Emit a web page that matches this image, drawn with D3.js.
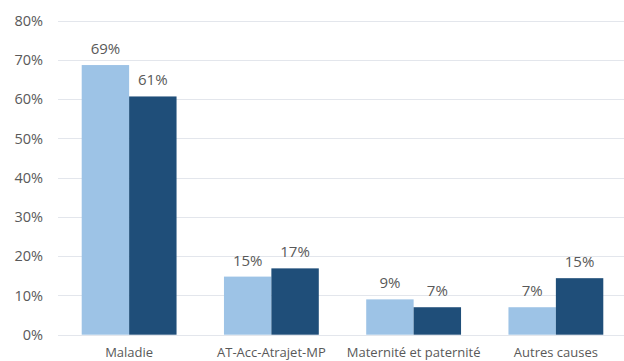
<!DOCTYPE html>
<html><head><meta charset="utf-8">
<script src="https://cdn.jsdelivr.net/npm/d3@7"></script>
<style>body{margin:0;background:#fff}svg{display:block}text{font-family:"Open Sans",sans-serif;fill:#595959}</style>
</head><body><div id="chart"></div>
<script>
const categories = ["Maladie", "AT-Acc-Atrajet-MP", "Maternité et paternité", "Autres causes"];
const series1 = [68.7, 14.8, 9.0, 7.0];
const series2 = [60.7, 16.9, 7.0, 14.4];
const labels1 = ["69%", "15%", "9%", "7%"];
const labels2 = ["61%", "17%", "7%", "15%"];
const yTicks = [0, 10, 20, 30, 40, 50, 60, 70, 80];
const colors = ["#9DC3E6", "#1F4E79"];

const W = 624, H = 361;
const svg = d3.select("#chart").append("svg").attr("width", W).attr("height", H);
const x = d3.scaleBand().domain(categories).range([58, 627]).paddingInner(1/3).paddingOuter(1/6);
const y = d3.scaleLinear().domain([0, 80]).range([334.7, 20.7]);
const xs = d3.scaleBand().domain([0, 1]).range([0, x.bandwidth()]);

svg.append("g").selectAll("line").data(yTicks).join("line")
  .attr("x1", 58).attr("x2", W).attr("y1", d => Math.round(y(d)) + 0.5).attr("y2", d => Math.round(y(d)) + 0.5)
  .attr("stroke", "#e3e6ec").attr("stroke-width", 1);

const yAxis = d3.axisLeft(y).tickValues(yTicks).tickFormat(d => d + "%").tickSize(0).tickPadding(0);
const ga = svg.append("g").attr("transform", "translate(43,0)").call(yAxis);
ga.select(".domain").remove();
ga.selectAll("text").attr("font-size", 14.5).attr("font-family", "Open Sans").attr("fill", "#595959");

const seriesData = [series1, series2];
const labelData = [labels1, labels2];
seriesData.forEach((s, si) => {
  const g = svg.append("g");
  g.selectAll("rect").data(s).join("rect")
    .attr("x", (d, i) => x(categories[i]) + xs(si))
    .attr("width", xs.bandwidth())
    .attr("y", d => y(d))
    .attr("height", d => y(0) - y(d))
    .attr("fill", colors[si]);
  g.selectAll("text").data(s).join("text")
    .attr("x", (d, i) => x(categories[i]) + xs(si) + xs.bandwidth() / 2)
    .attr("y", d => y(d) - 11)
    .attr("text-anchor", "middle").attr("font-size", 15)
    .text((d, i) => labelData[si][i]);
});

const xAxis = d3.axisBottom(x).tickSize(0).tickPadding(0);
const gx = svg.append("g").attr("transform", "translate(0,348)").call(xAxis);
gx.select(".domain").remove();
gx.selectAll("text").attr("font-size", 13).attr("font-family", "Open Sans").attr("fill", "#595959");
</script></body></html>
